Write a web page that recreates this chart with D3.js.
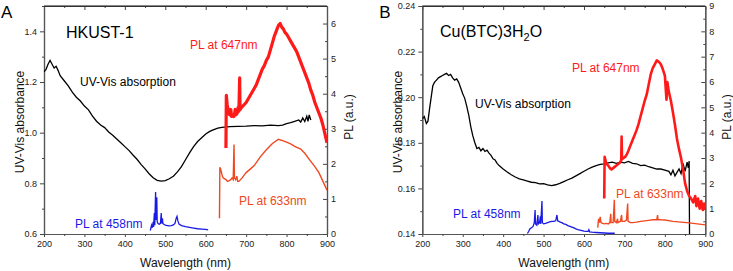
<!DOCTYPE html>
<html>
<head>
<meta charset="utf-8">
<script src="https://cdn.jsdelivr.net/npm/d3@7"></script>
<style>
body{margin:0;background:#fff}
svg{display:block;font-family:"Liberation Sans",Arial,sans-serif}
</style>
</head>
<body>
<div id="chart"></div>
<script>
// ---- panel A (HKUST-1) : [wavelength nm, value]
var absA = [[200,1.24],[205,1.25],[210,1.27],[215,1.285],[220,1.27],[225,1.255],[230,1.262],[235,1.245],[240,1.225],[250,1.205],[260,1.185],[270,1.16],[280,1.14],[290,1.125],[300,1.105],[310,1.09],[320,1.065],[330,1.045],[340,1.03],[350,1.02],[360,1.003],[370,0.99],[380,0.975],[390,0.96],[400,0.945],[410,0.93],[420,0.912],[430,0.895],[440,0.875],[450,0.857],[460,0.838],[470,0.822],[480,0.812],[490,0.809],[500,0.811],[510,0.818],[520,0.828],[530,0.845],[540,0.866],[550,0.893],[560,0.92],[570,0.945],[580,0.965],[590,0.98],[600,0.995],[610,1.005],[620,1.012],[630,1.018],[640,1.021],[660,1.024],[680,1.025],[700,1.026],[720,1.028],[740,1.027],[760,1.03],[780,1.028],[790,1.03],[800,1.036],[810,1.04],[820,1.045],[830,1.05],[835,1.042],[840,1.058],[845,1.044],[850,1.065],[853,1.045],[856,1.07],[860,1.05]];
var pl458A = [[463,0.1],[466,0.25],[468,0.18],[470,0.35],[471,0.2],[473,0.6],[474,0.25],[476,1.2],[477,0.4],[479,1.05],[480,0.35],[482,0.3],[485,0.28],[488,0.3],[490,0.6],[491,0.3],[493,0.45],[494,0.3],[497,0.27],[500,0.25],[505,0.24],[510,0.23],[515,0.24],[520,0.26],[524,0.3],[527,0.45],[529,0.5],[531,0.38],[534,0.28],[540,0.24],[550,0.21],[560,0.19],[570,0.17],[580,0.15],[590,0.14],[600,0.13],[606,0.12]];
var pl647A = [[650,2.45],[651,3.95],[653,3.7],[656,3.5],[659,3.4],[662,3.55],[664,3.35],[667,3.4],[670,3.35],[673,3.55],[675,3.4],[678,3.45],[680,3.6],[682,3.5],[684,4.45],[685,3.55],[688,3.6],[692,3.65],[696,3.7],[700,3.75],[705,3.85],[710,3.95],[715,4.05],[720,4.15],[725,4.25],[730,4.4],[735,4.55],[740,4.7],[745,4.8],[750,4.95],[755,5.05],[760,5.25],[765,5.45],[770,5.65],[775,5.8],[780,5.95],[784,6.0],[788,5.9],[792,5.85],[796,5.75],[800,5.7],[805,5.6],[810,5.5],[815,5.4],[820,5.3],[825,5.2],[830,5.05],[835,4.9],[840,4.75],[845,4.6],[850,4.45],[855,4.3],[860,4.1],[865,3.95],[870,3.75],[875,3.6],[880,3.45],[885,3.3],[890,3.1],[895,2.85],[900,2.6]];
var pl633A = [[634,0.45],[635,1.9],[637,1.85],[640,1.7],[643,1.6],[646,1.58],[650,1.55],[654,1.5],[658,1.52],[662,1.55],[665,1.6],[668,1.55],[670,2.55],[671,1.6],[674,1.55],[677,1.65],[679,1.5],[682,1.5],[686,1.55],[690,1.6],[695,1.68],[700,1.75],[710,1.85],[720,1.95],[735,2.2],[750,2.4],[765,2.58],[780,2.7],[790,2.66],[800,2.62],[810,2.57],[820,2.5],[835,2.42],[845,2.3],[858,2.1],[870,1.92],[880,1.75],[890,1.5],[900,1.25]];

// ---- panel B (Cu(BTC)3H2O)
var absB = [[200,0.1905],[205,0.1915],[210,0.1885],[214,0.1895],[218,0.195],[222,0.2],[226,0.205],[230,0.2065],[235,0.2075],[240,0.2085],[245,0.209],[250,0.2095],[255,0.21],[260,0.2105],[265,0.2095],[270,0.21],[275,0.2085],[280,0.2075],[285,0.208],[290,0.2065],[295,0.204],[300,0.2015],[305,0.1995],[310,0.196],[315,0.192],[320,0.187],[325,0.183],[330,0.18],[335,0.1775],[340,0.178],[345,0.1765],[350,0.1775],[355,0.1762],[360,0.1768],[365,0.1755],[370,0.1745],[375,0.173],[380,0.1725],[385,0.171],[390,0.17],[400,0.1685],[410,0.1672],[420,0.166],[430,0.165],[440,0.1642],[450,0.1637],[460,0.1632],[470,0.1627],[480,0.1625],[490,0.162],[500,0.1621],[510,0.1615],[520,0.1612],[530,0.1616],[540,0.1622],[550,0.163],[560,0.1638],[570,0.1645],[580,0.1655],[590,0.1665],[600,0.1675],[610,0.1685],[620,0.1693],[630,0.17],[640,0.1705],[650,0.1708],[660,0.1712],[670,0.1715],[680,0.171],[690,0.1715],[700,0.1712],[710,0.1718],[720,0.171],[730,0.1708],[740,0.17],[750,0.1702],[760,0.1695],[770,0.169],[780,0.1685],[790,0.1685],[800,0.168],[810,0.1675],[815,0.166],[820,0.168],[825,0.1655],[830,0.167],[835,0.1685],[840,0.1665],[845,0.171],[850,0.1675],[855,0.1715],[858,0.169],[860,0.172],[861,0.139]];
var pl458B = [[460,0.02],[463,0.1],[466,0.2],[470,0.25],[474,0.3],[477,0.45],[479,0.95],[480,0.4],[483,0.35],[486,0.75],[487,0.4],[490,0.45],[492,0.7],[493,0.4],[496,1.3],[497,0.45],[500,0.4],[505,0.42],[510,0.45],[515,0.48],[520,0.5],[525,0.5],[530,0.52],[533,0.75],[535,0.52],[540,0.48],[545,0.45],[550,0.4],[555,0.38],[560,0.33],[565,0.3],[570,0.27],[575,0.24],[580,0.2],[585,0.17],[590,0.15],[595,0.13],[600,0.11],[605,0.1],[610,0.1],[612,0.17],[614,0.08],[620,0.07],[630,0.06],[640,0.05],[650,0.04],[660,0.03],[676,0.03]];
var pl647B = [[650,1.4],[651,3.05],[654,2.85],[657,2.75],[660,2.7],[664,2.6],[668,2.55],[672,2.6],[676,2.65],[680,2.7],[684,2.75],[688,2.8],[692,2.9],[693,3.85],[694,2.95],[698,3.0],[702,3.05],[706,3.15],[710,3.3],[715,3.5],[720,3.7],[725,3.9],[730,4.1],[735,4.35],[740,4.65],[745,4.95],[750,5.25],[755,5.5],[760,5.9],[765,6.3],[770,6.55],[775,6.7],[780,6.85],[785,6.8],[790,6.7],[795,6.5],[800,6.25],[804,5.3],[806,6.0],[810,5.6],[815,5.25],[820,4.8],[825,4.3],[830,3.75],[835,3.35],[840,3.0],[845,2.55],[850,2.0],[855,1.7],[860,1.5],[865,1.4],[870,1.25],[875,1.5],[878,1.1],[882,1.4],[886,1.0],[890,1.3],[894,0.95],[897,1.2],[900,0.95]];
var pl633B = [[634,0.25],[636,0.6],[638,0.45],[640,0.68],[642,0.45],[646,0.42],[650,0.4],[655,0.42],[660,0.4],[664,0.45],[666,0.8],[667,0.45],[672,0.45],[675,1.35],[676,0.5],[680,0.45],[683,0.6],[684,0.45],[690,0.5],[693,0.75],[694,0.5],[700,0.5],[705,0.55],[708,1.2],[709,0.5],[715,0.45],[720,0.45],[730,0.47],[740,0.5],[750,0.52],[760,0.54],[770,0.56],[780,0.57],[782,0.75],[783,0.57],[790,0.56],[800,0.55],[820,0.5],[840,0.47],[860,0.44],[880,0.4],[900,0.36]];

var xTicks = [200,300,400,500,600,700,800,900];
var leftTicksA = [0.6,0.8,1.0,1.2,1.4];
var rightTicksA = [0,1,2,3,4,5,6];
var leftTicksB = [0.14,0.16,0.18,0.20,0.22,0.24];
var rightTicksB = [0,1,2,3,4,5,6,7,8,9];

var RED = "#ff1a1a", ORANGE = "#f04820", BLUE = "#1a1ae6";

var svg = d3.select("#chart").append("svg").attr("width", 733).attr("height", 271);

function drawPanel(p){
    var top = 6, bottom = 234;
    var x = d3.scaleLinear().domain([200,900]).range([p.left, p.right]);
    var yL = d3.scaleLinear().domain(p.leftDomain).range([bottom, top]);
    var yR = d3.scaleLinear().domain(p.rightDomain).range([bottom, top]);
    var g = svg.append("g");

    g.append("clipPath").attr("id", "clip" + p.id)
      .append("rect").attr("x", p.left).attr("y", top).attr("width", p.right - p.left).attr("height", bottom - top);

    var minorX = d3.range(250, 900, 100);

    // bottom axis
    g.append("g").attr("transform", "translate(0," + bottom + ")")
        .call(d3.axisBottom(x).tickValues(xTicks).tickSize(3).tickSizeOuter(0).tickPadding(4));
    g.append("g").attr("transform", "translate(0," + bottom + ")")
        .call(d3.axisBottom(x).tickValues(minorX).tickSize(2).tickSizeOuter(0).tickFormat(""));
    // top axis (inward ticks)
    g.append("g").attr("transform", "translate(0," + top + ")")
        .call(d3.axisTop(x).tickValues(xTicks).tickSize(-4).tickSizeOuter(0).tickFormat(""));
    g.append("g").attr("transform", "translate(0," + top + ")")
        .call(d3.axisTop(x).tickValues(minorX).tickSize(-2).tickSizeOuter(0).tickFormat(""));
    // left axis
    g.append("g").attr("transform", "translate(" + p.left + ",0)")
        .call(d3.axisLeft(yL).tickValues(p.leftTicks).tickSize(4).tickSizeOuter(0).tickPadding(3).tickFormat(d3.format(p.leftFmt)));
    g.append("g").attr("transform", "translate(" + p.left + ",0)")
        .call(d3.axisLeft(yL).tickValues(p.leftMinor).tickSize(2).tickSizeOuter(0).tickFormat(""));
    // right axis (inward ticks)
    g.append("g").attr("transform", "translate(" + p.right + ",0)")
        .call(d3.axisRight(yR).tickValues(p.rightTicks).tickSize(-4).tickSizeOuter(0).tickPadding(4).tickFormat(d3.format("d")));
    g.append("g").attr("transform", "translate(" + p.right + ",0)")
        .call(d3.axisRight(yR).tickValues(p.rightTicks.map(function(d){return d+0.5;}).filter(function(d){return d < p.rightDomain[1];})).tickSize(-2).tickSizeOuter(0).tickFormat(""));

    g.selectAll(".domain").attr("stroke", "#555").attr("stroke-width", 1.2);
    g.selectAll(".tick line").attr("stroke", "#444");
    g.selectAll(".tick text").attr("fill", "#222").style("font-size", "9px").style("font-family", "Liberation Sans, Arial, sans-serif");
    // top frame line
    g.append("line").attr("x1", p.left).attr("x2", p.right).attr("y1", top).attr("y2", top).attr("stroke", "#111").attr("stroke-width", 1.2);

    var lineL = d3.line().x(function(d){return x(d[0]);}).y(function(d){return yL(d[1]);});
    var lineR = d3.line().x(function(d){return x(d[0]);}).y(function(d){return yR(d[1]);});
    var plot = g.append("g").attr("clip-path", "url(#clip" + p.id + ")");

    plot.append("path").datum(p.abs).attr("d", lineL).attr("fill", "none").attr("stroke", "#000").attr("stroke-width", 1.3);
    plot.append("path").datum(p.pl458).attr("d", lineR).attr("fill", "none").attr("stroke", BLUE).attr("stroke-width", 1.3);
    plot.append("path").datum(p.pl633).attr("d", lineR).attr("fill", "none").attr("stroke", ORANGE).attr("stroke-width", 1.4);
    plot.append("path").datum(p.pl647).attr("d", lineR).attr("fill", "none").attr("stroke", RED).attr("stroke-width", p.redWidth).attr("stroke-linejoin", "round");

    // labels
    g.append("text").attr("x", (p.left + p.right) / 2).attr("y", 267).attr("text-anchor", "middle")
      .style("font-size", "12px").attr("fill", "#111").text("Wavelength (nm)");
    g.append("text").attr("transform", "translate(" + (p.left - 20) + ",122) rotate(-90)").attr("text-anchor", "middle")
      .style("font-size", "12px").attr("fill", "#111").text("UV-Vis absorbance");
    g.append("text").attr("transform", "translate(" + (p.right + 26) + ",117) rotate(-90)").attr("text-anchor", "middle")
      .style("font-size", "12px").attr("fill", "#111").text("PL (a.u.)");
    g.append("text").attr("x", p.left - 43).attr("y", 18).style("font-size", "17px").attr("fill", "#000").text(p.id);

    p.texts.forEach(function(t){
        g.append("text").attr("x", t.x).attr("y", t.y).style("font-size", "12px").attr("fill", t.c).text(t.s);
    });
    return g;
}

var gA = drawPanel({
    id: "A", left: 44, right: 327,
    leftDomain: [0.6, 1.5], rightDomain: [0, 6.5],
    leftTicks: leftTicksA, leftMinor: [0.7,0.9,1.1,1.3,1.5], leftFmt: ".1f",
    rightTicks: rightTicksA,
    abs: absA, pl458: pl458A, pl633: pl633A, pl647: pl647A, redWidth: 3.2,
    texts: [
        {x: 80, y: 86, c: "#000", s: "UV-Vis absorption"},
        {x: 190, y: 49, c: RED, s: "PL at 647nm"},
        {x: 239, y: 205, c: ORANGE, s: "PL at 633nm"},
        {x: 75, y: 228, c: BLUE, s: "PL at 458nm"}
    ]
});
gA.append("text").attr("x", 66).attr("y", 37.5).style("font-size", "16px").attr("fill", "#000").text("HKUST-1");

var gB = drawPanel({
    id: "B", left: 422.3, right: 705.3,
    leftDomain: [0.14, 0.24], rightDomain: [0, 9],
    leftTicks: leftTicksB, leftMinor: [0.15,0.17,0.19,0.21,0.23], leftFmt: ".2f",
    rightTicks: rightTicksB,
    abs: absB, pl458: pl458B, pl633: pl633B, pl647: pl647B, redWidth: 2.6,
    texts: [
        {x: 475, y: 108, c: "#000", s: "UV-Vis absorption"},
        {x: 572, y: 72, c: RED, s: "PL at 647nm"},
        {x: 616, y: 198, c: ORANGE, s: "PL at 633nm"},
        {x: 453, y: 218, c: BLUE, s: "PL at 458nm"}
    ]
});
var cu = gB.append("text").attr("x", 440).attr("y", 36.7).style("font-size", "16px").attr("fill", "#000");
cu.append("tspan").text("Cu(BTC)3H");
cu.append("tspan").attr("dy", 4).style("font-size", "11px").text("2");
cu.append("tspan").attr("dy", -4).text("O");
</script>
</body>
</html>
